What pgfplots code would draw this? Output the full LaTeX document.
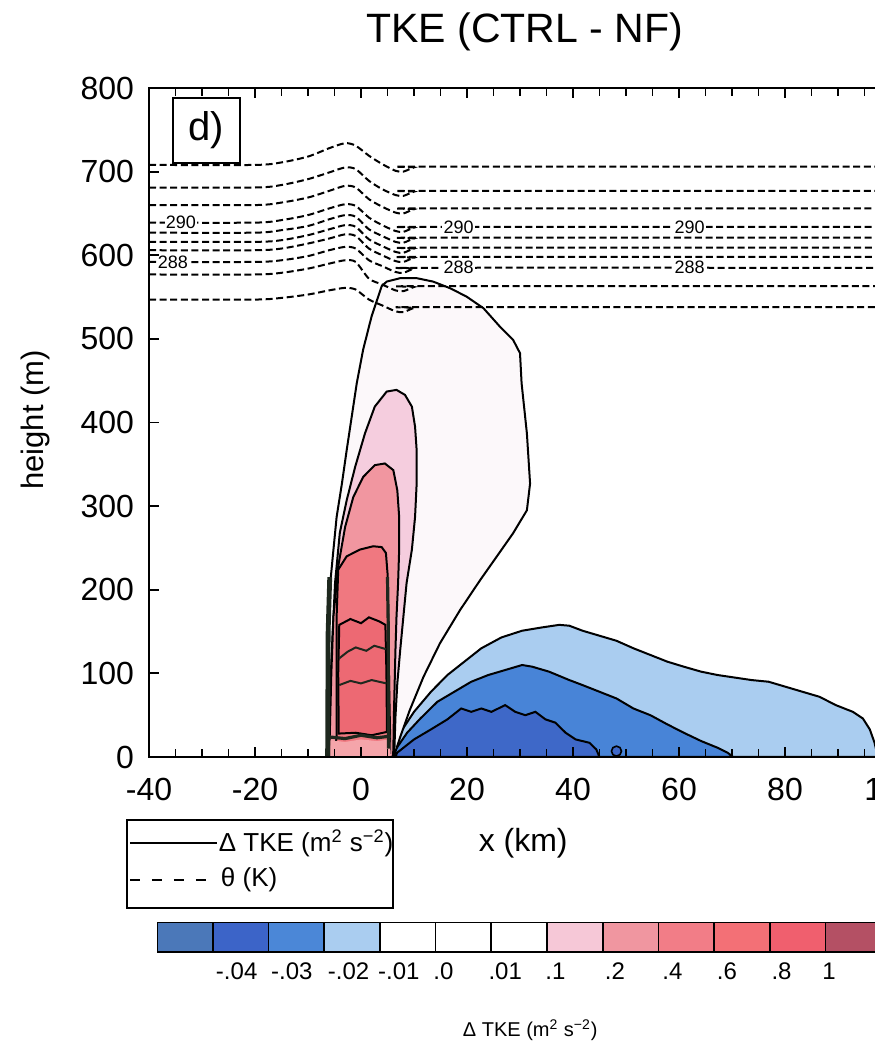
\documentclass[border=0pt]{standalone}
\usepackage{pgfplots}
\pgfplotsset{compat=1.18}
\usepackage{fontspec}
\setmainfont{Liberation Sans}
\definecolor{lblue}{RGB}{170,205,240}
\definecolor{mblue}{RGB}{72,132,215}
\definecolor{dblue}{RGB}{62,104,200}
\definecolor{outerc}{RGB}{252,248,250}
\definecolor{lpink}{RGB}{245,205,222}
\definecolor{pinkc}{RGB}{241,150,160}
\definecolor{redA}{RGB}{240,120,128}
\definecolor{redB}{RGB}{237,105,115}
\definecolor{groundc}{RGB}{245,165,170}
\definecolor{darkl}{RGB}{30,40,30}
\definecolor{cbA}{RGB}{75,120,185}
\definecolor{cbB}{RGB}{60,100,200}
\definecolor{cbC}{RGB}{75,135,215}
\definecolor{cbD}{RGB}{170,205,240}
\definecolor{cbH}{RGB}{246,200,215}
\definecolor{cbI}{RGB}{240,150,160}
\definecolor{cbJ}{RGB}{242,125,135}
\definecolor{cbK}{RGB}{243,112,118}
\definecolor{cbL}{RGB}{240,95,110}
\definecolor{cbM}{RGB}{180,80,100}
\definecolor{cbN}{RGB}{150,60,85}
\begin{document}
\begin{tikzpicture}
\begin{axis}[
  at={(74.5pt,148pt)}, anchor=south west,
  scale only axis, width=371pt, height=334.5pt,
  xmin=-40, xmax=100, ymin=0, ymax=800,
  xtick={-40,-20,0,20,40,60,80,100},
  xticklabels={-40,-20,0,20,40,60,80,100},
  minor x tick num=3,
  ytick={0,100,200,300,400,500,600,700,800},
  tick align=inside,
  major tick length=5pt, minor tick length=4pt,
  tick style={black, line width=0.9pt},
  axis line style={line width=1.4pt},
  ticklabel style={font=\fontsize{16pt}{19pt}\selectfont},
  /pgf/number format/assume math mode=true,
  xticklabel style={yshift=-7pt},
  yticklabel style={xshift=-4pt},
  clip mode=individual,
  axis on top,
]
% ---- negative (blue) regions
\addplot[fill=lblue, draw=black, line width=1pt] coordinates {
(5.5,0)(5.5,5)(7.4,29)(10.0,54)(13.2,78)(16.3,98)(19.5,114)(22.7,130)(26.5,143)(30.4,151)(34.2,155)(37.4,158)(39.3,157)(41.8,151)(45.0,145)(48.2,139)(51.4,130)(54.6,122)(57.8,114)(60.9,108)(64.2,102)(67.3,98)(70.5,95)(73.7,92)(76.9,90)(80.1,84)(83.3,78)(86.5,72)(89.6,62)(92.8,54)(94.7,46)(96.0,33)(96.9,17)(97.5,0)} --cycle;
\addplot[fill=mblue, draw=black, line width=1pt] coordinates {
(6.0,0)(6.1,5)(8.7,29)(11.2,46)(14.4,66)(17.6,78)(20.8,90)(24.0,98)(27.2,104)(30.4,110)(32.3,108)(35.5,102)(39.3,92)(41.8,86)(45.0,78)(48.2,70)(51.4,58)(54.6,50)(57.8,39)(60.9,29)(64.2,19)(67.3,11)(69.2,5)(70.2,0)} --cycle;
\addplot[fill=dblue, draw=black, line width=1pt] coordinates {
(6.5,0)(6.8,5)(10.0,21)(13.2,33)(16.3,45)(18.9,58)(20.8,54)(22.7,58)(24.6,54)(27.2,62)(29.1,54)(31.0,50)(32.9,54)(34.8,45)(36.7,41)(38.6,29)(40.5,21)(43.1,17)(44.4,9)(45.0,0)} --cycle;
\addplot[only marks, mark=*, mark size=2.5pt, mark options={fill=dblue, draw=black, line width=0.8pt}] coordinates {(48.2,7)};
% ---- positive (red) regions
\addplot[fill=outerc, draw=black, line width=1pt] coordinates {
(-6.2,0)(-6.2,120)(-5.8,208)(-5.2,248)(-4.6,287)(-3.6,327)(-2.7,367)(-1.75,407)(-0.8,447)(0.4,487)(2.0,527)(3.9,563)(4.85,568.5)(7.4,572.6)(10.5,572.6)(13.6,568.5)(16.8,560.6)(19.9,550.6)(23.1,536.7)(26.2,514.7)(28.7,498.8)(30.0,482.9)(30.3,447)(31.3,387)(31.9,327)(31.3,295)(28.7,267.6)(25.6,239.6)(22.5,211.7)(18.7,175.8)(14.9,136)(11.8,96)(9.2,56)(7.4,24)(6.4,4.4)(6.2,0)} --cycle;
\addplot[fill=lpink, draw=black, line width=1pt] coordinates {
(-6.2,0)(-6.2,16)(-5.5,128)(-4.9,208)(-4.0,268)(-2.7,307)(-1.1,347)(0.75,387)(2.6,419)(4.85,437)(6.7,439)(8.3,433)(9.6,419)(10.2,395)(10.5,367)(10.5,327)(10.2,287)(9.6,248)(8.6,208)(8.0,168)(7.4,128)(6.85,88)(6.5,48)(6.3,8)(6.2,0)} --cycle;
\addplot[fill=pinkc, draw=black, line width=1pt] coordinates {
(-6.0,0)(-5.6,100)(-5.2,168)(-4.3,228)(-3.0,275)(-1.45,311)(0.43,335)(2.6,349)(4.5,351)(6.1,343)(6.85,319)(7.2,287)(7.2,248)(7.0,208)(6.7,168)(6.5,128)(6.35,88)(6.2,48)(6.1,8)(6.0,0)} --cycle;
\addplot[fill=redA, draw=black, line width=1pt] coordinates {
(-5.0,5)(-4.6,24)(-4.6,168)(-4.3,224)(-2.7,240)(-0.2,248)(2.3,252)(3.9,251)(4.7,244)(5.0,220)(5.15,168)(5.3,88)(5.5,24)(5.5,5)} --cycle;
\addplot[fill=redB, draw=black, line width=1pt] coordinates {
(-4.2,28)(-4.3,100)(-4.1,158)(-2,165)(0,160)(1.5,167)(3.5,162)(4.6,158)(4.8,100)(4.9,30)(2,26)(-1,29)} --cycle;
\addplot[fill=groundc, draw=none] coordinates {(-5.8,1)(-5.8,20)(-3,18)(0,21)(3,19)(5.5,21)(5.6,1)} --cycle;
\addplot[darkl, line width=1pt] coordinates {(-4.1,118)(-2.5,126)(-1,131)(1,127)(2.5,133)(4.7,129)};
\addplot[darkl, line width=1pt] coordinates {(-4.1,86)(-2,91)(0,88)(2,92)(4.8,88)};
\addplot[darkl, line width=1.6pt] coordinates {(-6,24)(-3,22)(0,26)(3,23)(5.6,25)};
\addplot[darkl, line width=2.4pt] coordinates {(-6.3,0)(-6.2,150)(-5.9,215)};
\addplot[darkl, line width=1.6pt] coordinates {(5.2,10)(5.15,150)(5.0,215)};
% ---- potential temperature (dashed)
\pgfplotsset{thetaline/.style={black, line width=1pt, dash pattern=on 3.5pt off 1.8pt, smooth, tension=0.45}}
\addplot[thetaline] coordinates {(-40,708)(-20,708)(-15,711)(-10,718)(-6,728)(-3,734)(-1,731)(1.5,719)(4,709)(6.5,701)(8,700)(10,705)(12,706)(100,706)};
\addplot[thetaline] coordinates {(-40,681)(-20,681)(-15,684)(-10,691)(-6,699)(-3,705)(-1,703)(1.5,689)(4,679)(6.5,672)(8,671)(10,676)(12,677)(100,677)};
\addplot[thetaline] coordinates {(-40,660)(-20,660)(-15,663)(-10,669)(-6,677)(-3,683)(-1,681)(1.5,667)(4,658)(6.5,651)(8,650)(10,655)(12,656)(100,656)};
\addplot[thetaline] coordinates {(-40,639)(-20,639)(-15,642)(-10,648)(-6,656)(-3,661)(-1,659)(1.5,645)(4,636)(6.5,629)(8,628)(10,633)(12,634)(100,634)};
\addplot[thetaline] coordinates {(-40,627)(-20,627)(-15,630)(-10,635)(-6,643)(-3,648)(-1,646)(1.5,631)(4,623)(6.5,616)(8,615)(10,620)(12,621)(100,621)};
\addplot[thetaline] coordinates {(-40,616)(-20,616)(-15,618)(-10,624)(-6,631)(-3,636)(-1,634)(1.5,619)(4,611)(6.5,604)(8,603)(10,608)(12,609)(100,609)};
\addplot[thetaline] coordinates {(-40,606)(-20,606)(-15,608)(-10,614)(-6,620)(-3,625)(-1,623)(1.5,608)(4,600)(6.5,593)(8,592)(10,597)(12,598)(100,598)};
\addplot[thetaline] coordinates {(-40,592)(-20,592)(-15,594)(-10,599)(-6,606)(-3,610)(-1,608)(1.5,594)(4,587)(6.5,580)(8,579)(10,584)(12,585)(100,585)};
\addplot[thetaline] coordinates {(-40,577)(-20,577)(-15,579)(-10,584)(-6,590)(-3,594)(-1,592)(1.5,572)(4,565)(6.5,558)(8,557)(10,562)(12,563)(100,563)};
\addplot[thetaline] coordinates {(-40,547)(-20,547)(-15,549)(-10,553)(-6,558)(-3,561)(-1,559)(1.5,547)(4,540)(6.5,533)(8,532)(10,537)(12,538)(100,538)};
% contour labels
\tikzset{clab/.style={fill=white, inner sep=0.6pt, font=\fontsize{9pt}{10pt}\selectfont}}
\node[clab] at (axis cs:-34,639) {290};
\node[clab] at (axis cs:18.4,634) {290};
\node[clab] at (axis cs:62,634) {290};
\node[clab] at (axis cs:-35.5,592) {288};
\node[clab] at (axis cs:18.4,585) {288};
\node[clab] at (axis cs:62,585) {288};
% panel tag
\node[draw=black, fill=white, line width=1pt, minimum width=33.5pt, minimum height=32.5pt, inner sep=0pt, font=\fontsize{20pt}{24pt}\selectfont] at (axis cs:-29.2,749) {d)};
% title and axis labels
\node[font=\fontsize{20.5pt}{24pt}\selectfont] at (axis cs:30.9,867) {TKE (CTRL - NF)};
\node[font=\fontsize{16pt}{19pt}\selectfont] at (axis cs:30.6,-103) {x (km)};
\node[font=\fontsize{15.5pt}{18pt}\selectfont, rotate=90] at (axis cs:-61.5,403) {height (m)};
% legend
\draw[black, line width=1pt] (axis cs:-44.15,-75.4) rectangle (axis cs:6.04,-180.6);
\draw[black, line width=1pt] (axis cs:-43.6,-102.9) -- (axis cs:-27.2,-102.9);
\node[anchor=west, inner sep=0pt, font=\fontsize{13pt}{15pt}\selectfont] at (axis cs:-26.9,-102.9) {Δ TKE (m\textsuperscript{2} s\textsuperscript{−2})};
\draw[black, line width=1pt, dash pattern=on 5pt off 6pt] (axis cs:-43.6,-147) -- (axis cs:-27.0,-147);
\node[anchor=west, inner sep=0pt, font=\fontsize{13pt}{15pt}\selectfont] at (axis cs:-26.5,-147) {θ (K)};
\end{axis}
% ---- colour bar
\begin{axis}[
  at={(78.5pt,50.5pt)}, anchor=south west,
  scale only axis, width=390pt, height=15pt,
  xmin=0, xmax=14, ymin=0, ymax=1,
  axis line style={draw=none},
  xtick={1.43,2.42,3.44,4.34,5.14,6.25,7.15,8.22,9.25,10.23,11.21,12.06},
  xticklabels={-.04,-.03,-.02,-.01,.0,.01,.1,.2,.4,.6,.8,1},
  xtick style={draw=none}, ytick=\empty,
  xticklabel style={font=\fontsize{12pt}{14pt}\selectfont, yshift=-2pt},
  clip mode=individual,
]
\addplot[fill=cbA, draw=black, line width=0.8pt] coordinates {(0,0)(1,0)(1,1)(0,1)} --cycle;
\addplot[fill=cbB, draw=black, line width=0.8pt] coordinates {(1,0)(2,0)(2,1)(1,1)} --cycle;
\addplot[fill=cbC, draw=black, line width=0.8pt] coordinates {(2,0)(3,0)(3,1)(2,1)} --cycle;
\addplot[fill=cbD, draw=black, line width=0.8pt] coordinates {(3,0)(4,0)(4,1)(3,1)} --cycle;
\addplot[fill=white, draw=black, line width=0.8pt] coordinates {(4,0)(5,0)(5,1)(4,1)} --cycle;
\addplot[fill=white, draw=black, line width=0.8pt] coordinates {(5,0)(6,0)(6,1)(5,1)} --cycle;
\addplot[fill=white, draw=black, line width=0.8pt] coordinates {(6,0)(7,0)(7,1)(6,1)} --cycle;
\addplot[fill=cbH, draw=black, line width=0.8pt] coordinates {(7,0)(8,0)(8,1)(7,1)} --cycle;
\addplot[fill=cbI, draw=black, line width=0.8pt] coordinates {(8,0)(9,0)(9,1)(8,1)} --cycle;
\addplot[fill=cbJ, draw=black, line width=0.8pt] coordinates {(9,0)(10,0)(10,1)(9,1)} --cycle;
\addplot[fill=cbK, draw=black, line width=0.8pt] coordinates {(10,0)(11,0)(11,1)(10,1)} --cycle;
\addplot[fill=cbL, draw=black, line width=0.8pt] coordinates {(11,0)(12,0)(12,1)(11,1)} --cycle;
\addplot[fill=cbM, draw=black, line width=0.8pt] coordinates {(12,0)(13,0)(13,1)(12,1)} --cycle;
\addplot[fill=cbN, draw=black, line width=0.8pt] coordinates {(13,0)(14,0)(14,1)(13,1)} --cycle;
\node[font=\fontsize{10pt}{12pt}\selectfont] at (axis cs:6.7,-2.6) {Δ TKE (m\textsuperscript{2} s\textsuperscript{−2})};
\end{axis}
\pgfresetboundingbox
\path (0pt,0pt) rectangle (437pt,526.5pt);
\end{tikzpicture}
\end{document}
